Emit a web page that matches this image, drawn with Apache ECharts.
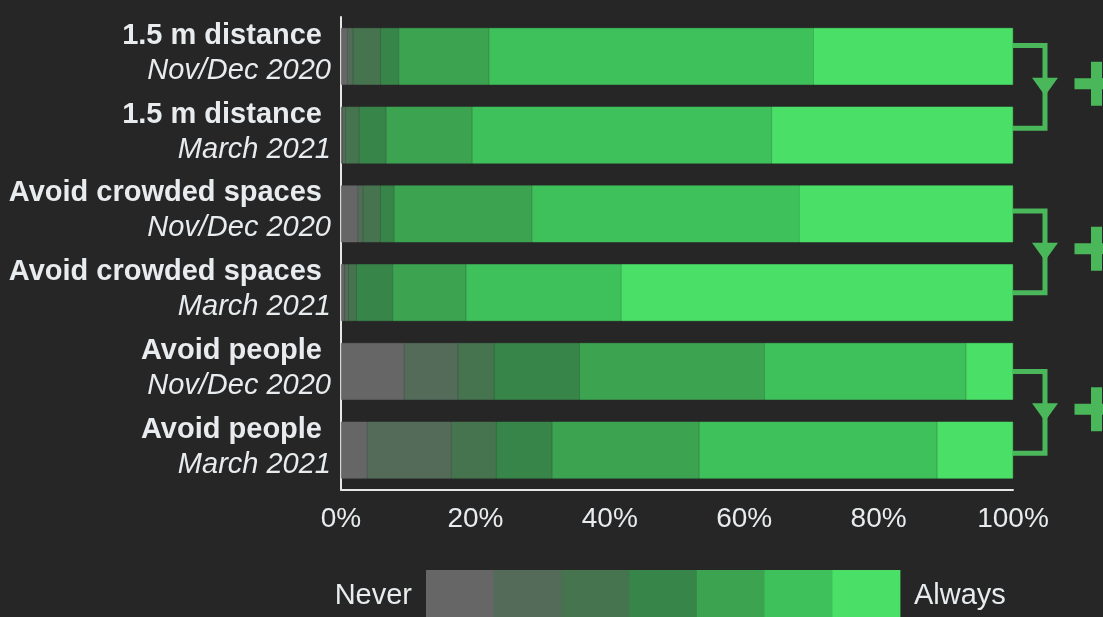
<!DOCTYPE html>
<html>
<head>
<meta charset="utf-8">
<script src="https://cdn.jsdelivr.net/npm/echarts@6/dist/echarts.min.js"></script>
<style>
html,body{margin:0;padding:0;background:#262626;}
#chart{width:1103px;height:617px;}
</style>
</head>
<body>
<div id="chart"></div>
<script>
// Categories (top to bottom)
var behaviours = ['1.5 m distance', '1.5 m distance', 'Avoid crowded spaces', 'Avoid crowded spaces', 'Avoid people', 'Avoid people'];
var periods = ['Nov/Dec 2020', 'March 2021', 'Nov/Dec 2020', 'March 2021', 'Nov/Dec 2020', 'March 2021'];
// Share (%) per response level, Never (1) ... Always (7)
var level1 = [1.0, 0.2, 2.5, 0.5, 9.4, 3.9];
var level2 = [0.8, 0.5, 0.8, 0.6, 8.0, 12.5];
var level3 = [4.1, 2.0, 2.6, 1.2, 5.4, 6.7];
var level4 = [2.7, 4.0, 2.0, 5.4, 12.7, 8.3];
var level5 = [13.4, 12.8, 20.5, 10.9, 27.5, 21.9];
var level6 = [48.3, 44.6, 39.8, 23.1, 30.0, 35.4];
var level7 = [29.7, 35.9, 31.8, 58.3, 7.0, 11.3];
var levelNames = ['Never', '2', '3', '4', '5', '6', 'Always'];
var xTicks = [0, 20, 40, 60, 80, 100];
var comparePairs = [[0, 1], [2, 3], [4, 5]];

var levels = [level1, level2, level3, level4, level5, level6, level7];
var colors = ['#666666', '#546b5a', '#46744f', '#38854a', '#3ca350', '#3ec05a', '#4ae068'];
var textColor = '#e8ecee';
var accent = '#4ab85a';
var font = 'Liberation Sans, Arial, Helvetica, sans-serif';

var cats = behaviours.map(function (b, i) { return b + '|' + periods[i]; });

var chart = echarts.init(document.getElementById('chart'));
var option = {
  backgroundColor: '#262626',
  animation: false,
  grid: { left: 341, right: 90, top: 17, bottom: 127.5, containLabel: false },
  xAxis: {
    type: 'value', min: 0, max: 100, interval: 20,
    axisLine: { show: true, lineStyle: { color: '#e6e6e6', width: 2 } },
    axisTick: { show: false },
    splitLine: { show: false },
    axisLabel: {
      color: textColor, fontSize: 28, fontFamily: font, margin: 16,
      formatter: function (v) { return xTicks.indexOf(v) >= 0 ? v + '%' : ''; }
    }
  },
  yAxis: {
    type: 'category', inverse: true, data: cats,
    axisLine: { show: true, lineStyle: { color: '#e6e6e6', width: 2 } },
    axisTick: { show: false },
    axisLabel: {
      margin: 10, align: 'right', padding: [0, 0, 6, 0],
      formatter: function (v) { var p = v.split('|'); return '{b|' + p[0] + '}\n{i|' + p[1] + '}'; },
      rich: {
        b: { fontSize: 29, fontWeight: 'bold', fontFamily: font, color: textColor, lineHeight: 35, padding: [0, 9, 0, 0], align: 'right' },
        i: { fontSize: 29, fontStyle: 'italic', fontFamily: font, color: textColor, lineHeight: 35, align: 'right' }
      }
    }
  },
  series: levels.map(function (arr, k) {
    return {
      name: levelNames[k], type: 'bar', stack: 'all', data: arr,
      barCategoryGap: '28%',
      itemStyle: { color: colors[k], borderColor: colors[k], borderWidth: 0.6 },
      emphasis: { disabled: true }
    };
  })
};
chart.setOption(option);

function buildGraphics() {
  var g = [];
  // legend strip
  var lx = 426, lw = 67.7, ly = 570, lh = 50;
  colors.forEach(function (c, k) {
    g.push({ type: 'rect', shape: { x: lx + k * lw, y: ly, width: lw + 0.5, height: lh }, style: { fill: c }, silent: true });
  });
  g.push({ type: 'text', x: lx - 14, y: ly + 26, style: { text: levelNames[0], fill: textColor, font: '29px ' + font, align: 'right', verticalAlign: 'middle' } });
  g.push({ type: 'text', x: lx + 7 * lw + 14, y: ly + 26, style: { text: levelNames[6], fill: textColor, font: '29px ' + font, align: 'left', verticalAlign: 'middle' } });

  // comparison brackets
  var offs = [[-11, -7], [-3, 0], [0, 3]];
  comparePairs.forEach(function (p, j) {
    var a = chart.convertToPixel({ gridIndex: 0 }, [100, cats[p[0]]]);
    var b = chart.convertToPixel({ gridIndex: 0 }, [100, cats[p[1]]]);
    var xe = a[0];
    var y1 = a[1] + offs[j][0], y2 = b[1] + offs[j][1];
    var vx = xe + 32, mid = (y1 + y2) / 2;
    g.push({ type: 'polyline', shape: { points: [[xe, y1], [vx, y1], [vx, y2], [xe, y2]] }, style: { stroke: accent, lineWidth: 5, fill: null, lineJoin: 'miter' }, silent: true });
    g.push({ type: 'polygon', shape: { points: [[vx - 13, mid - 9], [vx + 13, mid - 9], [vx, mid + 9]] }, style: { fill: accent }, silent: true });
    var px = xe + 83.5, py = mid - 3;
    g.push({ type: 'rect', shape: { x: px - 22, y: py - 5.5, width: 44, height: 11 }, style: { fill: accent }, silent: true });
    g.push({ type: 'rect', shape: { x: px - 5.5, y: py - 22, width: 11, height: 44 }, style: { fill: accent }, silent: true });
  });
  return g;
}
chart.setOption({ graphic: buildGraphics() });
</script>
</body>
</html>
